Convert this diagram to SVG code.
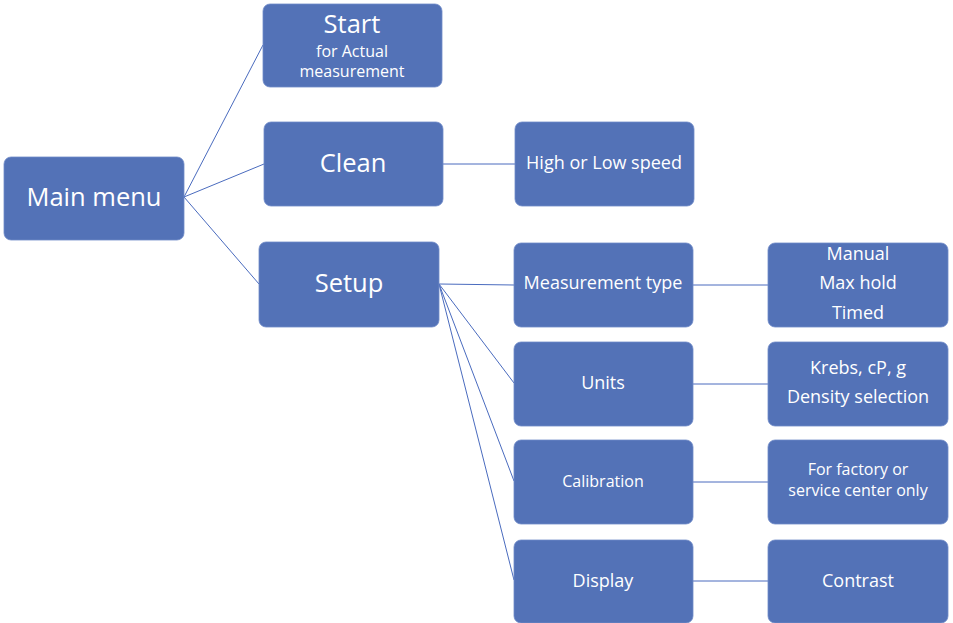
<svg xmlns="http://www.w3.org/2000/svg" width="953" height="623" viewBox="0 0 953 623">
<style>
.box{fill:#5372B7;stroke:#6F8AC8;stroke-width:0.8}
.t{fill:#ffffff;font-family:"Open Sans","Noto Sans","DejaVu Sans",sans-serif;text-anchor:middle}
.l{font-size:25.5px}
.m{font-size:18px}
.s{font-size:16px}
.c{stroke:#4A6BBE;stroke-width:1;fill:none}
</style>
<rect width="953" height="623" fill="#ffffff"/>
<g id="connectors">
<line class="c" x1="184" y1="197" x2="263" y2="45"/>
<line class="c" x1="184" y1="197" x2="264" y2="164"/>
<line class="c" x1="184" y1="197" x2="259" y2="284"/>
<line class="c" x1="443" y1="164" x2="515" y2="164"/>
<line class="c" x1="439" y1="284" x2="514" y2="285"/>
<line class="c" x1="439" y1="284" x2="514" y2="383"/>
<line class="c" x1="439" y1="284" x2="514" y2="481"/>
<line class="c" x1="439" y1="284" x2="514" y2="580"/>
<line class="c" x1="693" y1="285" x2="768" y2="285"/>
<line class="c" x1="693" y1="384" x2="768" y2="384"/>
<line class="c" x1="693" y1="482" x2="768" y2="482"/>
<line class="c" x1="693" y1="581" x2="768" y2="581"/>
</g>
<g id="main-menu"><rect class="box" x="4" y="157" width="180" height="83" rx="7"/><text class="t l" x="94" y="206">Main menu</text></g>
<g id="start"><rect class="box" x="263" y="4" width="179" height="83" rx="7"/><text class="t l" x="352" y="33">Start</text><text class="t s" x="352" y="57">for Actual</text><text class="t s" x="352" y="77">measurement</text></g>
<g id="clean"><rect class="box" x="264" y="122" width="179" height="84" rx="7"/><text class="t l" x="353" y="172">Clean</text></g>
<g id="high-low"><rect class="box" x="515" y="122" width="179" height="84" rx="7"/><text class="t m" x="604" y="169">High or Low speed</text></g>
<g id="setup"><rect class="box" x="259" y="242" width="180" height="85" rx="7"/><text class="t l" x="349" y="292">Setup</text></g>
<g id="measurement-type"><rect class="box" x="514" y="243" width="179" height="84" rx="7"/><text class="t m" x="603" y="289">Measurement type</text></g>
<g id="units"><rect class="box" x="514" y="342" width="179" height="84" rx="7"/><text class="t m" x="603" y="389">Units</text></g>
<g id="calibration"><rect class="box" x="514" y="440" width="179" height="84" rx="7"/><text class="t s" x="603" y="487">Calibration</text></g>
<g id="display"><rect class="box" x="514" y="540" width="179" height="83" rx="7"/><text class="t m" x="603" y="587">Display</text></g>
<g id="mt-options"><rect class="box" x="768" y="243" width="180" height="84" rx="7"/><text class="t m" x="858" y="260">Manual</text><text class="t m" x="858" y="289">Max hold</text><text class="t m" x="858" y="319">Timed</text></g>
<g id="unit-options"><rect class="box" x="768" y="342" width="180" height="84" rx="7"/><text class="t m" x="858" y="374">Krebs, cP, g</text><text class="t m" x="858" y="403">Density selection</text></g>
<g id="calibration-note"><rect class="box" x="768" y="440" width="180" height="84" rx="7"/><text class="t s" x="858" y="475">For factory or</text><text class="t s" x="858" y="496">service center only</text></g>
<g id="contrast"><rect class="box" x="768" y="540" width="180" height="83" rx="7"/><text class="t m" x="858" y="587">Contrast</text></g>
</svg>
